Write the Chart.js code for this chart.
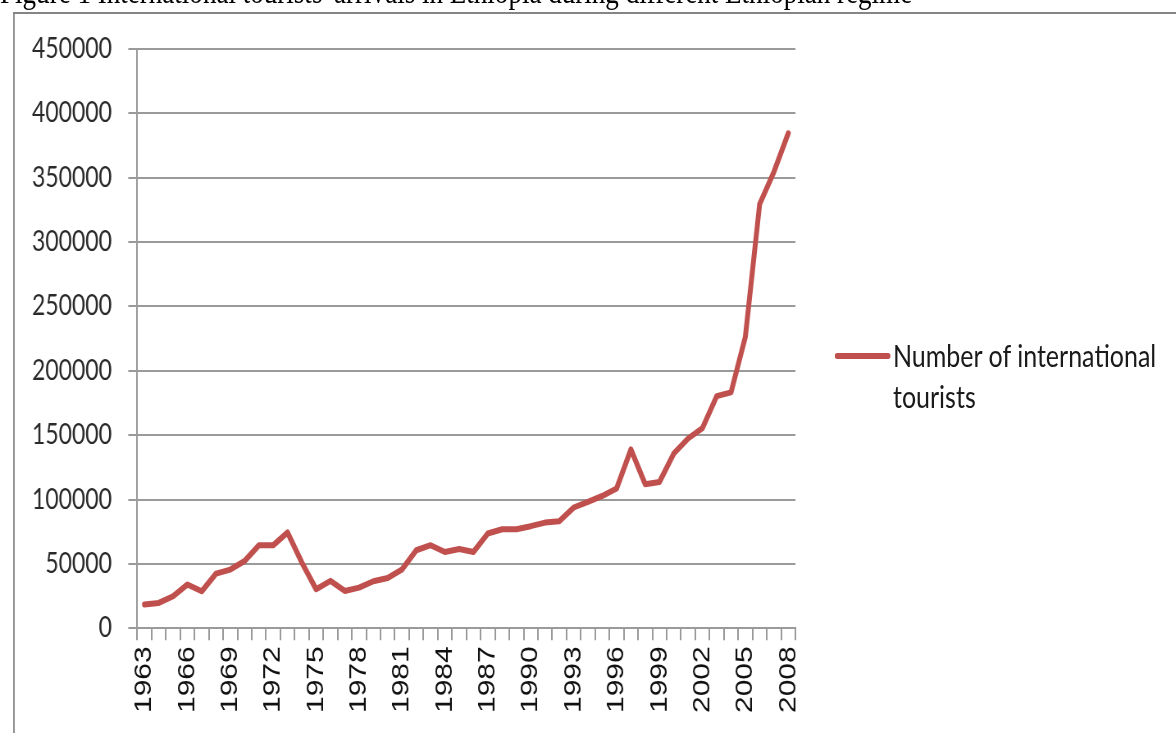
<!DOCTYPE html>
<html>
<head>
<meta charset="utf-8">
<script src="https://cdn.jsdelivr.net/npm/chart.js@4/dist/chart.umd.min.js"></script>
<style>
  html, body { margin: 0; padding: 0; background: #fff; overflow: hidden; }
  #page { position: absolute; left: 0; top: 0; width: 1434px; height: 733px;
          transform: scaleX(0.82); transform-origin: 0 0; }
  #title { position: absolute; left: 0; top: -24px; white-space: nowrap;
           font-family: "Liberation Serif", serif; font-size: 33px; line-height: 33px; color: #000; }
  #frame { position: absolute; left: 16px; top: 12px; width: 1500px; height: 800px;
           border-left: 2px solid #858585; border-top: 2px solid #858585; }
  #chartBox { position: absolute; left: 0; top: 0; width: 1434px; height: 733px; }
  #legend { position: absolute; left: 1018px; top: 335px; font-family: Lato, sans-serif;
            font-size: 30.5px; line-height: 41px; color: #1a1a1a; }
  #legend .swatch { position: absolute; left: 0; top: 18px; width: 68px; height: 6px;
                    border-radius: 3px; }
  #legend .text { margin-left: 71px; }
</style>
</head>
<body>
<div id="page">
  <div id="title">Figure 1 International tourists' arrivals in Ethiopia during different Ethiopian regime</div>
  <div id="frame"></div>
  <div id="chartBox"><canvas id="tourChart"></canvas></div>
  <div id="legend"></div>
</div>
<script>
// Data
const years = [1963, 1964, 1965, 1966, 1967, 1968, 1969, 1970, 1971, 1972,
               1973, 1974, 1975, 1976, 1977, 1978, 1979, 1980, 1981, 1982,
               1983, 1984, 1985, 1986, 1987, 1988, 1989, 1990, 1991, 1992,
               1993, 1994, 1995, 1996, 1997, 1998, 1999, 2000, 2001, 2002,
               2003, 2004, 2005, 2006, 2007, 2008];
const tourists = [18500, 19700, 24900, 34000, 28700, 42500, 45600, 52300, 64500, 64500,
                  74400, 51000, 30300, 36800, 29000, 31600, 36500, 39100, 45600, 60600,
                  64500, 59300, 61600, 59300, 73600, 76900, 76900, 79300, 82100, 83200,
                  93800, 98200, 102800, 108500, 138900, 111900, 113700, 135800, 147400, 155500,
                  180300, 183200, 226400, 329500, 354600, 384500];
const seriesName = 'Number of international tourists';
const lineColor = '#C0504D';
const gridColor = '#9a9a9a';

window.renderTourChart = function () {
    const ctx = document.getElementById('tourChart');
    if (!ctx) return;

    window.tourChartInstance = new Chart(ctx, {
        type: 'line',
        data: {
            labels: years.map(String),
            datasets: [{
                label: seriesName,
                data: tourists,
                borderColor: lineColor,
                backgroundColor: lineColor,
                borderWidth: 6,
                pointRadius: 0,
                tension: 0,
                borderCapStyle: 'round',
                borderJoinStyle: 'round'
            }]
        },
        options: {
            responsive: true,
            maintainAspectRatio: false,
            animation: false,
            layout: {
                padding: { left: 19, right: 464, top: 49, bottom: 14 }
            },
            scales: {
                x: {
                    offset: true,
                    grid: {
                        offset: true,
                        drawOnChartArea: false,
                        drawTicks: true,
                        tickLength: 12,
                        color: gridColor,
                        lineWidth: 2
                    },
                    border: { color: gridColor, width: 2 },
                    ticks: {
                        autoSkip: false,
                        maxRotation: 90,
                        minRotation: 90,
                        padding: 6,
                        color: '#111',
                        font: { family: 'Liberation Sans', size: 30 },
                        callback: function (value, index) {
                            return index % 3 === 0 ? this.getLabelForValue(value) : '';
                        }
                    }
                },
                y: {
                    min: 0,
                    max: 450000,
                    grid: {
                        color: gridColor,
                        lineWidth: 2,
                        tickLength: 11
                    },
                    border: { color: gridColor, width: 2 },
                    ticks: {
                        stepSize: 50000,
                        padding: 20,
                        color: '#2a2a2a',
                        font: { family: 'Lato', size: 28 },
                        callback: function (value) { return String(value); }
                    }
                }
            },
            plugins: {
                legend: { display: false },
                tooltip: { enabled: false }
            }
        }
    });

    // legend as html text, wraps like the original
    const legend = document.getElementById('legend');
    const ds = window.tourChartInstance.data.datasets[0];
    legend.innerHTML = '<span class="swatch" style="background:' + ds.borderColor + '"></span>' +
        '<div class="text">Number of international<br>tourists</div>';
};

window.renderTourChart();
</script>
</body>
</html>
